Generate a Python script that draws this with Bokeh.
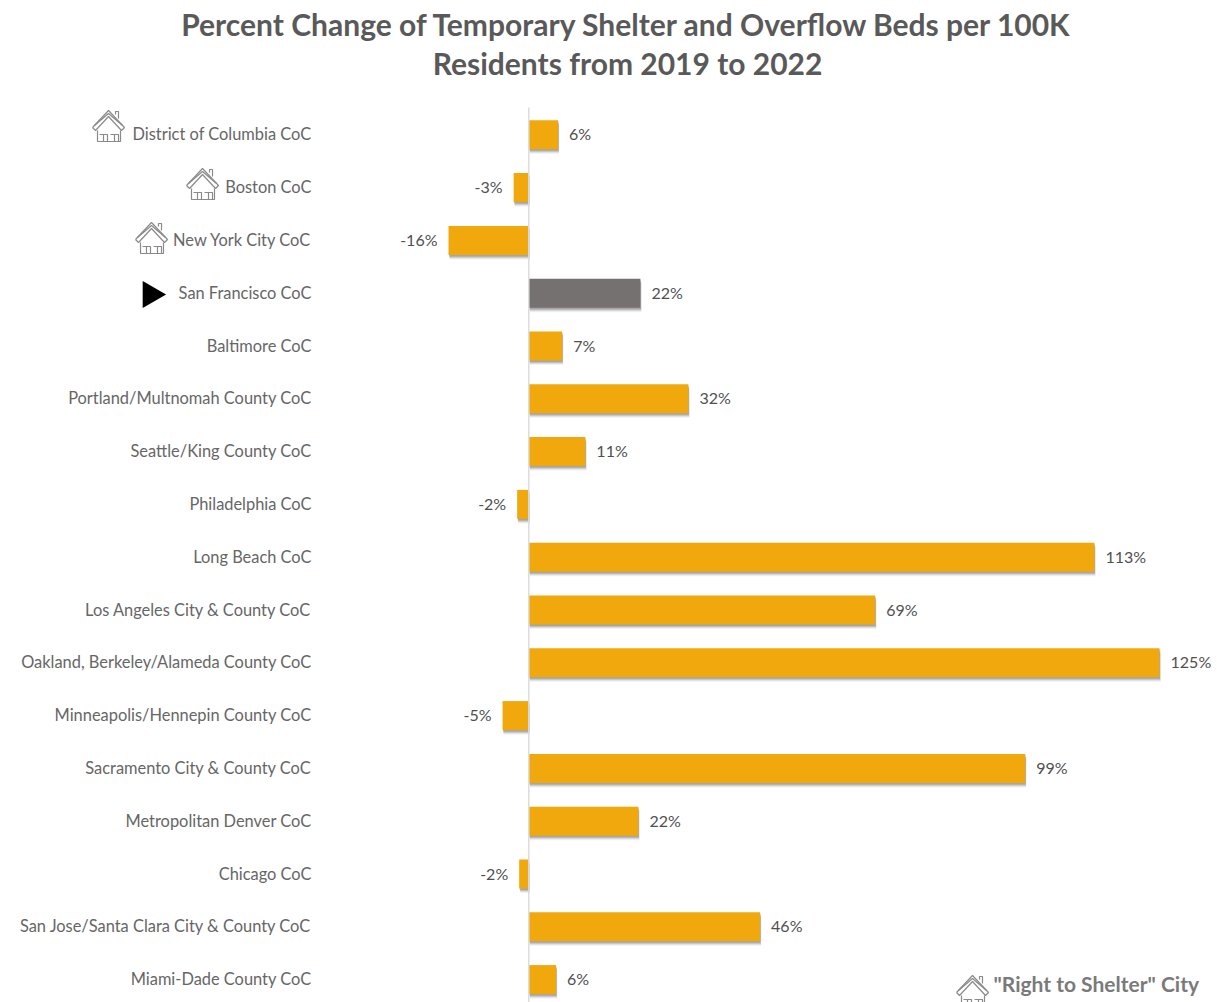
from bokeh.plotting import figure
from bokeh.models import Range1d, ColumnDataSource
from bokeh.core.properties import value
from bokeh.embed import file_html
from bokeh.resources import INLINE

TITLE_LINES = ["Percent Change of Temporary Shelter and Overflow Beds per 100K",
               "Residents from 2019 to 2022"]
CATEGORIES = ["District of Columbia CoC", "Boston CoC", "New York City CoC", "San Francisco CoC",
              "Baltimore CoC", "Portland/Multnomah County CoC", "Seattle/King County CoC",
              "Philadelphia CoC", "Long Beach CoC", "Los Angeles City & County CoC",
              "Oakland, Berkeley/Alameda County CoC", "Minneapolis/Hennepin County CoC",
              "Sacramento City & County CoC", "Metropolitan Denver CoC", "Chicago CoC",
              "San Jose/Santa Clara City & County CoC", "Miami-Dade County CoC"]
VALUES = [5.8, -3.0, -15.9, 22.1, 6.6, 31.6, 11.2, -2.3, 112.0, 68.6, 124.9, -5.2, 98.3, 21.7, -1.9, 45.8, 5.4]
VALUE_LABELS = ["6%", "-3%", "-16%", "22%", "7%", "32%", "11%", "-2%", "113%", "69%", "125%",
                "-5%", "99%", "22%", "-2%", "46%", "6%"]
HIGHLIGHT = "San Francisco CoC"
LEGEND_TEXT = '"Right to Shelter" City'

ORANGE, GREY = "#f0a80c", "#767171"
W, H = 1217, 1002
PX_PER_X, PX_PER_ROW = 5.05, 52.8
X0_PAGE, Y0_PAGE = 528.3, 134.3


def dx(page_x):
    return (page_x - X0_PAGE) / PX_PER_X


def dy(page_y):
    return (page_y - Y0_PAGE) / PX_PER_ROW


p = figure(width=W, height=H, output_backend="svg", toolbar_location=None,
           x_range=Range1d(dx(0), dx(W)), y_range=Range1d(dy(H), dy(0)),
           x_axis_type=None, y_axis_type=None, min_border=0, outline_line_color=None)
p.grid.visible = False
p.background_fill_color = "white"

rows = list(range(len(CATEGORIES)))
left = [min(v, 0) for v in VALUES]
right = [max(v, 0) for v in VALUES]
colors = [GREY if c == HIGHLIGHT else ORANGE for c in CATEGORIES]
src = ColumnDataSource(dict(y=rows, left=left, right=right, color=colors))

# soft drop shadow
for off_x, off_y, a in [(0.5, 1.5, .2), (0.7, 2.5, .18), (1.0, 3.5, .12), (1.2, 4.5, .07)]:
    p.hbar(y=[r + off_y / PX_PER_ROW for r in rows],
           left=[l + off_x / PX_PER_X for l in left], right=[r + off_x / PX_PER_X for r in right],
           height=0.55, color="#404040", alpha=a, line_color=None)

p.hbar(y="y", left="left", right="right", height=0.55, fill_color="color", line_color=None, source=src)
p.segment(x0=[0], x1=[0], y0=[dy(107)], y1=[dy(1002)], line_color="#dcdcdc", line_width=1.5)

FONT = value("Lato")
# category labels
p.text(x=[dx(311)] * len(rows), y=rows, text=CATEGORIES, text_font=FONT, text_font_size="16.4px",
       text_color="#666666", text_align="right", text_baseline="middle", y_offset=-1)

# value labels
pos = [i for i, v in enumerate(VALUES) if v >= 0]
neg = [i for i, v in enumerate(VALUES) if v < 0]
p.text(x=[VALUES[i] for i in pos], y=pos, text=[VALUE_LABELS[i] for i in pos], text_font=FONT,
       text_font_size="16px", text_color="#505050", text_align="left", text_baseline="middle",
       x_offset=11, y_offset=-1)
p.text(x=[VALUES[i] for i in neg], y=neg, text=[VALUE_LABELS[i] for i in neg], text_font=FONT,
       text_font_size="16px", text_color="#505050", text_align="right", text_baseline="middle",
       x_offset=-11, y_offset=-1)

# title
p.text(x=[dx(627)] * 2, y=[dy(23), dy(62)], text=TITLE_LINES, text_font=FONT, text_font_size="30px",
       text_font_style="bold", text_color="#595959", text_align="center", text_baseline="middle")

# San Francisco marker
p.scatter(x=[dx(150)], y=[dy(294)], marker="triangle", size=27, angle=-1.5708, color="black", line_color=None)

# house icons
HOUSE = [
    [(0, 17), (16, 0), (32, 17), (29, 20), (16, 6), (3, 20), (0, 17)],
    [(2, 15), (16, 3), (30, 15)],
    [(5, 20), (5, 31), (28, 31), (28, 20)],
    [(23, 4), (23, 1), (26, 1), (26, 8)],
    [(7, 24), (15, 24), (15, 31), (11, 31), (11, 24)],
    [(18, 24), (26, 24), (26, 31), (22, 31), (22, 24)],
]


def house(px, py):
    xs = [[dx(px + a) for a, _ in part] for part in HOUSE]
    ys = [[dy(py + b) for _, b in part] for part in HOUSE]
    p.multi_line(xs, ys, line_color="#8a8a8a", line_width=1.2)


for (px, py) in [(92, 110), (186, 168), (135, 222), (956, 975)]:
    house(px, py)

# legend text
p.text(x=[dx(993)], y=[dy(983)], text=[LEGEND_TEXT], text_font=FONT, text_font_size="21px",
       text_font_style="bold", text_color="#7a7a7a", text_align="left", text_baseline="middle")

open("out.html", "w").write(file_html(p, INLINE))
